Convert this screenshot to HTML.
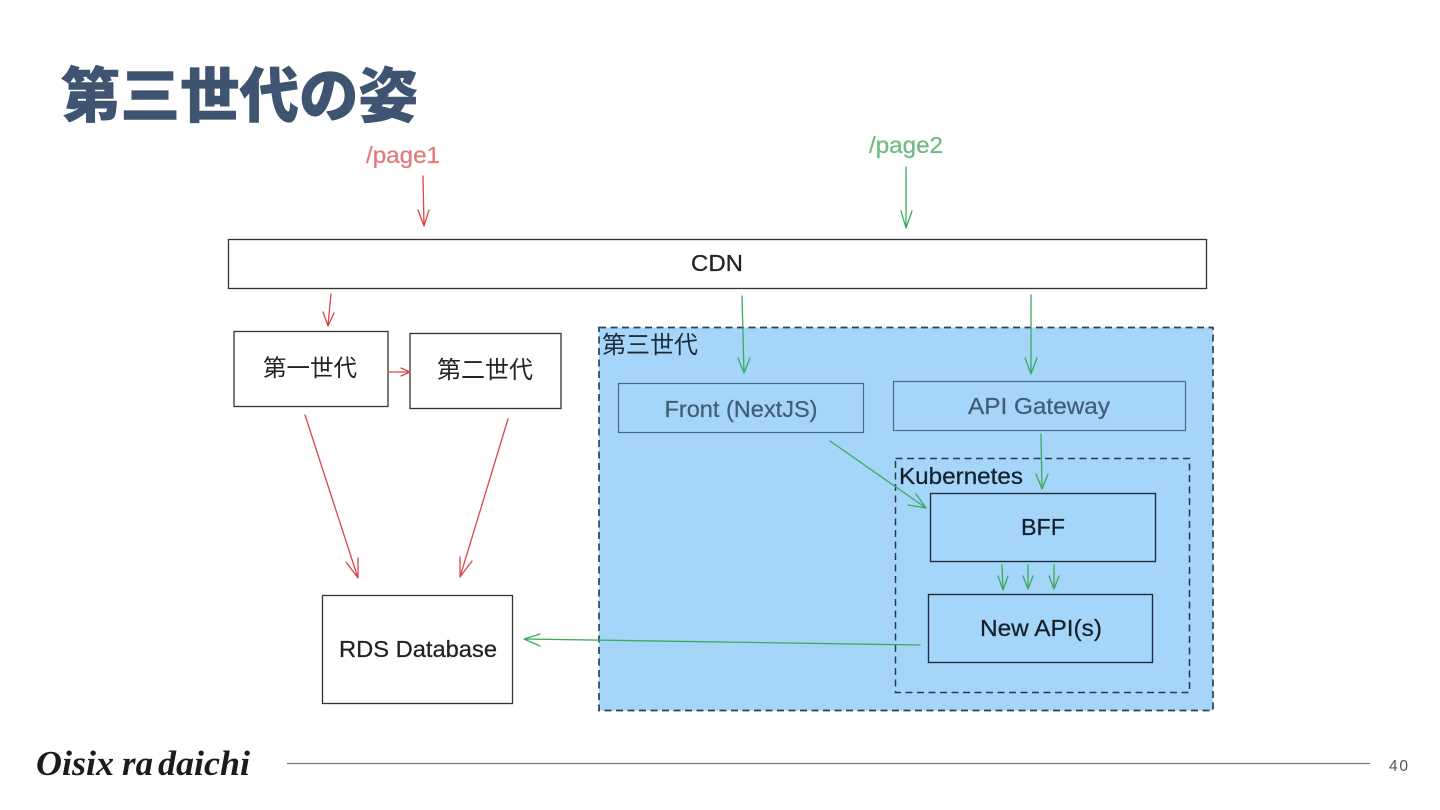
<!DOCTYPE html>
<html><head><meta charset="utf-8"><style>
html,body{margin:0;padding:0;background:#fff;width:1440px;height:810px;overflow:hidden}
svg{display:block;filter:blur(.3px)}
text{font-family:"Liberation Sans","Noto Sans CJK JP",sans-serif;stroke-width:.25px}
</style></head><body>
<svg width="1440" height="810" viewBox="0 0 1440 810" xmlns="http://www.w3.org/2000/svg">
<rect width="1440" height="810" fill="#fff"/>
<text x="61" y="117" font-size="59.500" font-weight="900" fill="#3f5470" stroke="#3f5470" style="font-family:'Noto Sans CJK JP',sans-serif;stroke-width:.6px">第三世代の姿</text>
<text x="366" y="163" font-size="23" fill="#e27a7c" stroke="#e27a7c" textLength="74" lengthAdjust="spacingAndGlyphs">/page1</text>
<text x="869" y="153" font-size="23" fill="#6dbb83" stroke="#6dbb83" textLength="74" lengthAdjust="spacingAndGlyphs">/page2</text>

<rect x="228.500" y="239.500" width="978" height="49" fill="#fff" stroke="#333" stroke-width="1.300"/>
<text x="717" y="271" font-size="23" fill="#222" stroke="#222" text-anchor="middle" textLength="52" lengthAdjust="spacingAndGlyphs">CDN</text>

<rect x="234" y="331.500" width="154" height="75" fill="#fff" stroke="#333" stroke-width="1.300"/>
<text x="263" y="376" font-size="23.500" fill="#222" style="font-family:'Noto Sans CJK JP',sans-serif">第一世代</text>
<rect x="410" y="333.500" width="151" height="75" fill="#fff" stroke="#333" stroke-width="1.300"/>
<text x="437" y="378" font-size="24" fill="#222" style="font-family:'Noto Sans CJK JP',sans-serif">第二世代</text>

<rect x="322.500" y="595.500" width="190" height="108" fill="#fff" stroke="#333" stroke-width="1.300"/>
<text x="339" y="657" font-size="23" fill="#222" stroke="#222" textLength="158" lengthAdjust="spacingAndGlyphs">RDS Database</text>

<rect x="599" y="327.500" width="614" height="383" fill="#a6d5fa" stroke="#2e4257" stroke-width="1.700" stroke-dasharray="7 4.500"/>
<text x="602" y="353" font-size="24" fill="#1d2b3a" style="font-family:'Noto Sans CJK JP',sans-serif">第三世代</text>

<rect x="618.500" y="383.500" width="245" height="49" fill="none" stroke="#4a6983" stroke-width="1.200"/>
<text x="741" y="417" font-size="23" fill="#425d78" stroke="#425d78" text-anchor="middle" textLength="153" lengthAdjust="spacingAndGlyphs">Front (NextJS)</text>
<rect x="893.500" y="381.500" width="292" height="49" fill="none" stroke="#4a6983" stroke-width="1.200"/>
<text x="1039" y="414" font-size="23" fill="#425d78" stroke="#425d78" text-anchor="middle" textLength="142" lengthAdjust="spacingAndGlyphs">API Gateway</text>

<rect x="895.500" y="458.500" width="294" height="234" fill="none" stroke="#263a4d" stroke-width="1.500" stroke-dasharray="7 4.500"/>
<text x="899" y="484" font-size="23" fill="#14202c" stroke="#14202c" textLength="124" lengthAdjust="spacingAndGlyphs">Kubernetes</text>
<rect x="930.500" y="493.500" width="225" height="68" fill="none" stroke="#1f2f3f" stroke-width="1.400"/>
<text x="1043" y="535" font-size="23" fill="#14202c" stroke="#14202c" text-anchor="middle" textLength="44" lengthAdjust="spacingAndGlyphs">BFF</text>
<rect x="928.500" y="594.500" width="224" height="68" fill="none" stroke="#1f2f3f" stroke-width="1.400"/>
<text x="1041" y="636" font-size="23" fill="#14202c" stroke="#14202c" text-anchor="middle" textLength="122" lengthAdjust="spacingAndGlyphs">New API(s)</text>

<g fill="none" stroke="#d9474b" stroke-width="1.300" stroke-linecap="round" stroke-linejoin="round">
<path d="M423 176 L424 226 M418 210 L424 226 L429 210"/>
<path d="M331 294 L328 325 M323 312 L328 326 L334 313"/>
<path d="M388 372 L409 372 M401 368 L410 372 L401 376"/>
<path d="M305 415 L358 578 M346 562 L358 578 L358 558"/>
<path d="M508 419 L460 577 M460 557 L460 577 L472 561"/>
</g>
<g fill="none" stroke="#3eaa5c" stroke-width="1.300" stroke-linecap="round" stroke-linejoin="round">
<path d="M906 167 L906 228 M901 211 L906 228 L912 211"/>
<path d="M742 296 L744 373 M738 358 L744 373 L750 358"/>
<path d="M1031 295 L1031 374 M1025 358 L1031 374 L1037 358"/>
<path d="M830 441 L926 508 M908 505 L926 508 L916 494"/>
<path d="M1041 434 L1042 489 M1036 474 L1042 489 L1048 474"/>
<path d="M1002 565 L1003 590 M998 576 L1003 590 L1008 576"/>
<path d="M1028 565 L1028 589 M1023 576 L1028 589 L1033 576"/>
<path d="M1054 565 L1054 589 M1049 576 L1054 589 L1059 576"/>
<path d="M920 645 L524 639 M540 634 L524 639 L540 646"/>
</g>

<g font-size="35" font-weight="700" font-style="italic" fill="#1b1b1b" style="font-family:'Liberation Serif',serif">
<text x="36" y="775" textLength="78" lengthAdjust="spacingAndGlyphs" style="font-family:'Liberation Serif',serif">Oisix</text>
<text x="122" y="775" textLength="31" lengthAdjust="spacingAndGlyphs" style="font-family:'Liberation Serif',serif">ra</text>
<text x="158" y="775" textLength="92" lengthAdjust="spacingAndGlyphs" style="font-family:'Liberation Serif',serif">daichi</text>
</g>
<line x1="287" y1="763.500" x2="1370" y2="763.500" stroke="#777" stroke-width="1.200"/>
<text x="1389" y="771" font-size="15.500" fill="#555" letter-spacing="1.800">40</text>
</svg>
</body></html>
